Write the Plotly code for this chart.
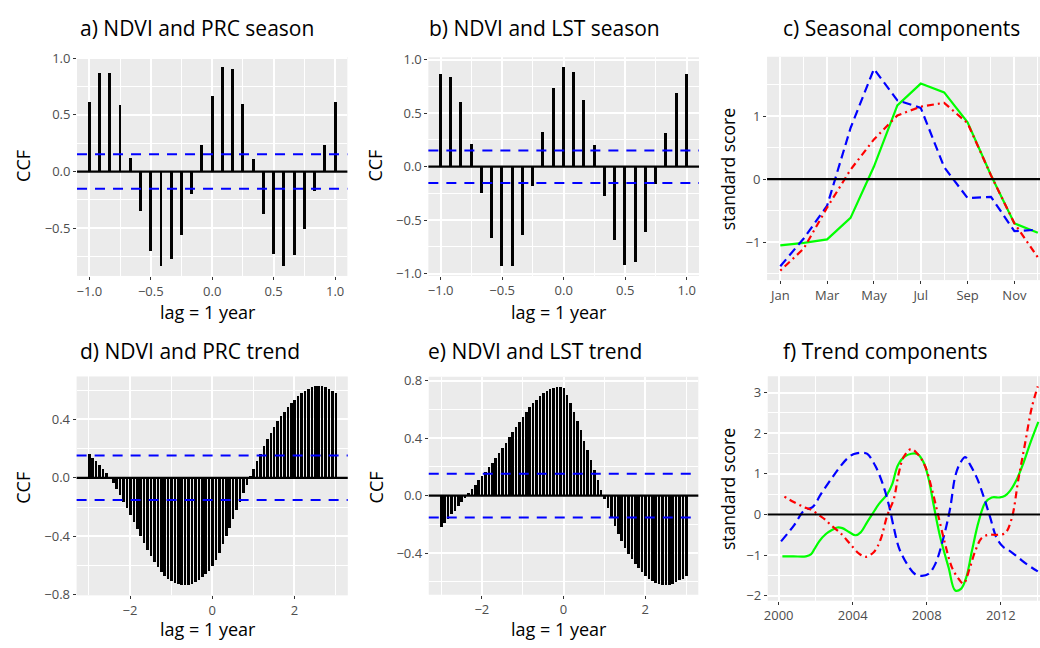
import plotly.graph_objects as go

W, H = 1040, 648
FONT = "Open Sans"

# ---------------- data ----------------
lag_season = [k / 12 for k in range(-12, 13)]
lag_trend = [k / 12 for k in range(-36, 37)]
ci_level = 0.152

ccf_prc_season = [0.612, 0.871, 0.865, 0.583, 0.118, -0.351, -0.704, -0.833, -0.776,
                  -0.560, -0.201, 0.230, 0.664, 0.922, 0.908, 0.598, 0.106, -0.379,
                  -0.724, -0.830, -0.741, -0.509, -0.172, 0.230, 0.612]

ccf_lst_season = [0.860, 0.836, 0.599, 0.210, -0.252, -0.672, -0.927, -0.927, -0.644,
                  -0.182, 0.325, 0.729, 0.930, 0.881, 0.617, 0.201, -0.274, -0.687,
                  -0.921, -0.897, -0.617, -0.161, 0.316, 0.687, 0.860]

ccf_prc_trend = [0.163, 0.134, 0.111, 0.082, 0.056, 0.027, -0.005, -0.040, -0.080,
                 -0.122, -0.167, -0.212, -0.256, -0.307, -0.356, -0.405, -0.452, -0.497,
                 -0.539, -0.579, -0.617, -0.650, -0.675, -0.697, -0.713, -0.724, -0.732,
                 -0.736, -0.737, -0.735, -0.728, -0.717, -0.702, -0.684, -0.664, -0.640,
                 -0.610,
                 -0.568, -0.515, -0.460, -0.405, -0.345, -0.285, -0.227, -0.167, -0.107,
                 -0.051, 0.004, 0.060, 0.111, 0.163, 0.212, 0.261, 0.305, 0.345,
                 0.383, 0.418, 0.450, 0.480, 0.508, 0.533, 0.556, 0.576, 0.594,
                 0.607, 0.617, 0.623, 0.626, 0.624, 0.618, 0.607, 0.594, 0.579]

ccf_lst_trend = [-0.220, -0.188, -0.159, -0.129, -0.102, -0.072, -0.041, -0.014, 0.020,
                 0.050, 0.077, 0.109, 0.136, 0.168, 0.199, 0.231, 0.267, 0.301,
                 0.337, 0.371, 0.408, 0.446, 0.480, 0.516, 0.550, 0.584, 0.616,
                 0.646, 0.670, 0.693, 0.716, 0.734, 0.747, 0.754, 0.759, 0.759,
                 0.754,
                 0.702, 0.646, 0.584, 0.521, 0.457, 0.385, 0.317, 0.249, 0.181,
                 0.109, 0.041, -0.023, -0.086, -0.149, -0.208, -0.265, -0.317, -0.362,
                 -0.403, -0.442, -0.476, -0.505, -0.532, -0.557, -0.580, -0.596, -0.609,
                 -0.616, -0.621, -0.621, -0.618, -0.614, -0.602, -0.589, -0.578, -0.559]

months = [1, 2, 3, 4, 5, 6, 7, 8, 9, 10, 11, 12]
month_ticks = [1, 3, 5, 7, 9, 11]
month_minor = [2, 4, 6, 8, 10, 12]
month_labels = ["Jan", "Mar", "May", "Jul", "Sep", "Nov"]
ndvi_season = [-1.05, -1.01, -0.954, -0.613, 0.20, 1.17, 1.515, 1.376, 0.902, 0.062, -0.701, -0.85]
lst_season = [-1.38, -0.94, -0.42, 0.81, 1.747, 1.25, 1.13, 0.19, -0.30, -0.28, -0.825, -0.80]
prc_season = [-1.45, -1.10, -0.45, 0.15, 0.63, 1.01, 1.15, 1.21, 0.887, 0.06, -0.70, -1.24]

ndvi_trend_t = [2000.2, 2000.8, 2001.47, 2001.74, 2001.92, 2002.19, 2002.55, 2002.9, 2003.17,
                2003.44, 2003.8, 2004.16, 2004.43, 2004.79, 2005.06, 2005.42, 2005.87, 2006.13,
                2006.45, 2006.85, 2007.49, 2007.85, 2008.11, 2008.38, 2008.74, 2009.18, 2009.54,
                2009.85, 2010.14, 2010.44, 2010.8, 2011.16, 2011.51, 2011.96, 2012.23, 2012.5,
                2012.86, 2013.22, 2013.58, 2014.03]
ndvi_trend = [-1.03, -1.03, -1.03, -0.98, -0.86, -0.66, -0.48, -0.376, -0.32,
              -0.336, -0.43, -0.51, -0.44, -0.18, 0.01, 0.26, 0.50, 0.74,
              1.22, 1.44, 1.49, 1.26, 0.86, 0.22, -0.58, -1.30, -1.87,
              -1.83, -1.54, -0.90, -0.18, 0.29, 0.42, 0.42, 0.46, 0.58,
              0.86, 1.26, 1.74, 2.28]

lst_trend_t = [2000.13, 2000.84, 2001.38, 2001.83, 2002.28, 2002.82, 2003.26, 2003.71, 2004.07,
               2004.52, 2004.79, 2005.24, 2005.69, 2005.96, 2006.23, 2006.5, 2006.94, 2007.38,
               2007.74, 2008.1, 2008.46, 2008.9, 2009.26, 2009.54, 2009.8, 2010.08, 2010.35,
               2010.71, 2011.06, 2011.42, 2011.78, 2012.14, 2012.5, 2012.95, 2013.4, 2014.0]
lst_trend = [-0.66, -0.26, 0.10, 0.18, 0.50, 0.86, 1.14, 1.38, 1.49,
             1.52, 1.49, 1.18, 0.66, 0.22, -0.34, -0.82, -1.22, -1.47,
             -1.51, -1.46, -1.22, -0.58, 0.14, 0.94, 1.26, 1.41, 1.22,
             0.90, 0.46, -0.06, -0.58, -0.80, -0.90, -1.06, -1.22, -1.40]

prc_trend_t = [2000.31, 2000.84, 2001.38, 2001.74, 2002.19, 2002.55, 2002.82, 2003.35, 2003.89,
               2004.34, 2004.7, 2005.15, 2005.5, 2005.87, 2006.22, 2006.49, 2006.76, 2007.15,
               2007.56, 2007.92, 2008.28, 2008.64, 2009.0, 2009.36, 2009.72, 2009.99, 2010.31,
               2010.62, 2010.97, 2011.33, 2011.78, 2012.23, 2012.59, 2012.95, 2013.31, 2013.67,
               2014.0]
prc_trend = [0.44, 0.30, 0.18, 0.12, -0.02, -0.14, -0.26, -0.46, -0.74,
             -0.96, -1.04, -0.92, -0.62, -0.02, 0.38, 1.02, 1.42, 1.61,
             1.46, 1.18, 0.62, -0.06, -0.74, -1.30, -1.58, -1.70, -1.34,
             -0.90, -0.58, -0.50, -0.50, -0.46, -0.10, 0.86, 1.74, 2.62,
             3.15]

titles = ["a) NDVI and PRC season", "b) NDVI and LST season", "c) Seasonal components",
          "d) NDVI and PRC trend", "e) NDVI and LST trend", "f) Trend components"]

# ---------------- layout helpers ----------------
def fx(p):
    return p / W


def fy(p):
    return 1 - p / H


# panel rectangles in pixels: (left, right, top, bottom)
rects = {
    1: (73.3, 344.7, 50.3, 274.7),
    2: (426.0, 697.7, 50.5, 274.6),
    3: (766.0, 1040.0, 50.0, 279.0),
    4: (72.9, 345.1, 377.8, 602.2),
    5: (426.4, 697.0, 378.1, 601.6),
    6: (766.7, 1040.0, 377.6, 607.7),
}

fig = go.Figure()

GREEN = "#00FF00"
BLUE = "#0000FF"
RED = "#FF0000"


def axref(i, kind):
    return kind if i == 1 else f"{kind}{i}"


# bars
bar_sets = [(1, lag_season, ccf_prc_season, 0.024),
            (2, lag_season, ccf_lst_season, 0.024),
            (4, lag_trend, ccf_prc_trend, 0.062),
            (5, lag_trend, ccf_lst_trend, 0.062)]
for i, lx, vy, bw in bar_sets:
    fig.add_trace(go.Bar(x=lx, y=vy, width=bw, marker=dict(color="black", line=dict(width=0)),
                         xaxis=axref(i, "x"), yaxis=axref(i, "y"), showlegend=False,
                         hoverinfo="skip"))

# component lines
line_specs = [
    (3, months, ndvi_season, GREEN, "solid", 2.2, "linear"),
    (3, months, lst_season, BLUE, "9px,5px", 2.2, "linear"),
    (3, months, prc_season, RED, "2px,4px,7px,4px", 2.2, "linear"),
    (6, ndvi_trend_t, ndvi_trend, GREEN, "solid", 2.2, "spline"),
    (6, lst_trend_t, lst_trend, BLUE, "9px,5px", 2.2, "spline"),
    (6, prc_trend_t, prc_trend, RED, "2px,4px,7px,4px", 2.2, "spline"),
]
for i, tx, ty, col, dash, lw, shape in line_specs:
    fig.add_trace(go.Scatter(x=tx, y=ty, mode="lines",
                             line=dict(color=col, width=lw, dash=dash, shape=shape),
                             xaxis=axref(i, "x"), yaxis=axref(i, "y"), showlegend=False,
                             hoverinfo="skip"))

shapes = []
for i in [1, 2, 4, 5]:
    for lvl in (ci_level, -ci_level):
        shapes.append(dict(type="line", xref=f"{axref(i, 'x')} domain", x0=0, x1=1,
                           yref=axref(i, "y"), y0=lvl, y1=lvl,
                           line=dict(color=BLUE, width=2, dash="10px,8px")))
for i in [1, 2, 3, 4, 5, 6]:
    shapes.append(dict(type="line", xref=f"{axref(i, 'x')} domain", x0=0, x1=1,
                       yref=axref(i, "y"), y0=0, y1=0,
                       line=dict(color="black", width=2.2)))

tickfont = dict(family=FONT, size=13, color="#4D4D4D")
common = dict(showgrid=True, gridcolor="white", gridwidth=1.5, zeroline=False, showline=False,
              ticks="outside", ticklen=3, tickwidth=1.3, tickcolor="#333333",
              tickfont=tickfont, fixedrange=True)

ranges = {
    1: ((-1.1, 1.1), (-0.921, 1.010)),
    2: ((-1.1, 1.1), (-1.02, 1.023)),
    3: ((0.434, 12.094), (-1.60, 1.94)),
    4: ((-3.3, 3.3), (-0.805, 0.694)),
    5: ((-3.3, 3.3), (-0.69, 0.828)),
    6: ((1999.41, 2014.12), (-2.12, 3.40)),
}

MINOR = dict(showgrid=True, gridcolor="white", gridwidth=0.7, ticks="")
xticks = {
    1: dict(tickmode="linear", tick0=0, dtick=0.5, tickformat=".1f", minor=dict(MINOR, dtick=0.25, tick0=0)),
    2: dict(tickmode="linear", tick0=0, dtick=0.5, tickformat=".1f", minor=dict(MINOR, dtick=0.25, tick0=0)),
    3: dict(tickmode="array", tickvals=month_ticks, ticktext=month_labels,
            minor=dict(MINOR, tickmode="array", tickvals=month_minor)),
    4: dict(tickmode="linear", tick0=0, dtick=2, minor=dict(MINOR, dtick=1, tick0=0)),
    5: dict(tickmode="linear", tick0=0, dtick=2, minor=dict(MINOR, dtick=1, tick0=0)),
    6: dict(tickmode="linear", tick0=2000, dtick=4, minor=dict(MINOR, dtick=2, tick0=2000)),
}
yticks = {
    1: dict(tickmode="linear", tick0=0, dtick=0.5, tickformat=".1f", minor=dict(MINOR, dtick=0.25, tick0=0)),
    2: dict(tickmode="linear", tick0=0, dtick=0.5, tickformat=".1f", minor=dict(MINOR, dtick=0.25, tick0=0)),
    3: dict(tickmode="linear", tick0=0, dtick=1, minor=dict(MINOR, dtick=0.5, tick0=0)),
    4: dict(tickmode="linear", tick0=0, dtick=0.4, tickformat=".1f", minor=dict(MINOR, dtick=0.2, tick0=0)),
    5: dict(tickmode="linear", tick0=0, dtick=0.4, tickformat=".1f", minor=dict(MINOR, dtick=0.2, tick0=0)),
    6: dict(tickmode="linear", tick0=0, dtick=1, minor=dict(MINOR, dtick=0.5, tick0=0)),
}

layout_axes = {}
for i, (l, r, t, b) in rects.items():
    xr, yr = ranges[i]
    xname = "xaxis" if i == 1 else f"xaxis{i}"
    yname = "yaxis" if i == 1 else f"yaxis{i}"
    layout_axes[xname] = dict(common, domain=[fx(l), fx(r)], range=list(xr),
                              anchor=axref(i, "y"), **xticks[i])
    layout_axes[yname] = dict(common, domain=[fy(b), fy(t)], range=list(yr),
                              anchor=axref(i, "x"), **yticks[i])

annotations = []
title_pos = [(74, 20), (425, 20), (780, 20), (74, 352), (424, 352), (780, 352)]
for txt, (x, y) in zip(titles, title_pos):
    annotations.append(dict(text=txt, x=fx(x), y=fy(y), xref="paper", yref="paper",
                            xanchor="left", yanchor="middle", showarrow=False,
                            font=dict(family=FONT, size=21, color="black")))

for (x, y) in [(205, 312), (557, 312), (205, 637), (557, 637)]:
    annotations.append(dict(text="lag = 1 year", x=fx(x), y=fy(y), xref="paper", yref="paper",
                            xanchor="center", yanchor="middle", showarrow=False,
                            font=dict(family=FONT, size=18, color="black")))
for (x, y) in [(19, 162), (372, 162), (19, 492), (373, 492)]:
    annotations.append(dict(text="CCF", x=fx(x), y=fy(y), xref="paper", yref="paper",
                            xanchor="center", yanchor="middle", showarrow=False, textangle=-90,
                            font=dict(family=FONT, size=18, color="black")))
for (x, y) in [(727, 165), (727, 493)]:
    annotations.append(dict(text="standard score", x=fx(x), y=fy(y), xref="paper", yref="paper",
                            xanchor="center", yanchor="middle", showarrow=False, textangle=-90,
                            font=dict(family=FONT, size=17.5, color="black")))

fig.update_layout(
    width=W, height=H, margin=dict(l=0, r=0, t=0, b=0),
    paper_bgcolor="white", plot_bgcolor="#EBEBEB",
    showlegend=False, bargap=0,
    shapes=shapes, annotations=annotations,
    font=dict(family=FONT),
    **layout_axes,
)

fig.write_html("out.html")
